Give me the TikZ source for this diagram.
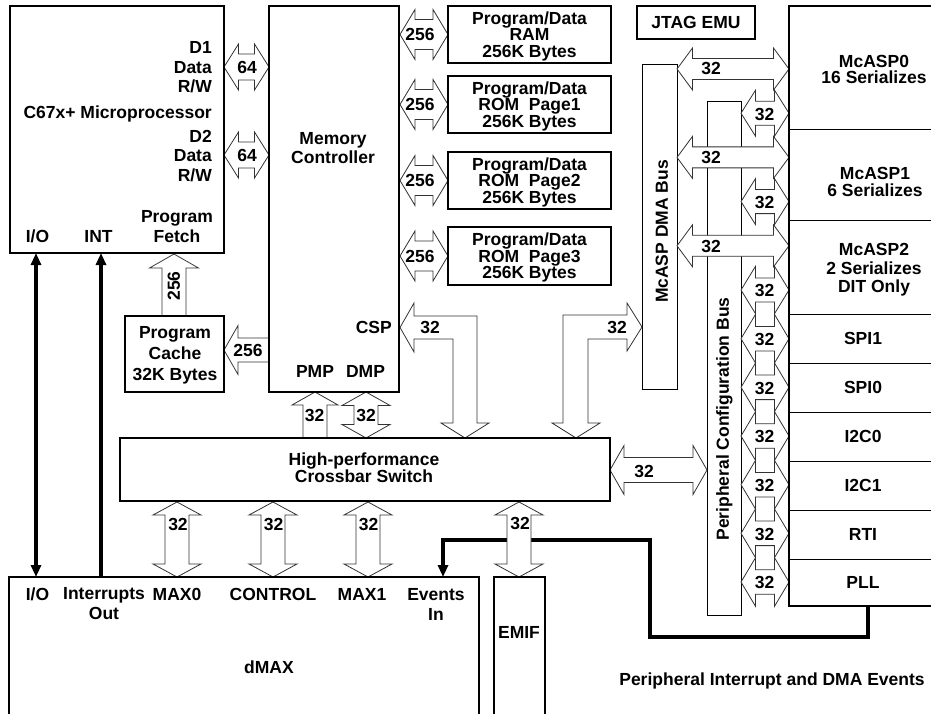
\documentclass[tikz,border=0pt]{standalone}
\usepackage{fontspec}
\setmainfont{Liberation Sans}
\usetikzlibrary{arrows.meta}
\pgfdeclarelayer{bg}
\pgfdeclarelayer{mid}
\pgfsetlayers{bg,mid,main}
% double-headed horizontal block arrow: x1, x2, y, head length, head half-height, shaft half-height
\newcommand\DblH[6]{\draw[barrow] ({#1},{#3}) -- ({#1+#4},{#3-#5}) -- ({#1+#4},{#3-#6}) -- ({#2-#4},{#3-#6}) -- ({#2-#4},{#3-#5}) -- ({#2},{#3}) -- ({#2-#4},{#3+#5}) -- ({#2-#4},{#3+#6}) -- ({#1+#4},{#3+#6}) -- ({#1+#4},{#3+#5}) -- cycle;}
% double-headed vertical block arrow: x, y1, y2, head length, head half-width, shaft half-width
\newcommand\DblV[6]{\draw[barrow] ({#1},{#2}) -- ({#1+#5},{#2+#4}) -- ({#1+#6},{#2+#4}) -- ({#1+#6},{#3-#4}) -- ({#1+#5},{#3-#4}) -- ({#1},{#3}) -- ({#1-#5},{#3-#4}) -- ({#1-#6},{#3-#4}) -- ({#1-#6},{#2+#4}) -- ({#1-#5},{#2+#4}) -- cycle;}
% single up arrow: x, ytip, ytail, head length, head half, shaft half
\newcommand\SglUp[6]{\draw[barrow] ({#1},{#2}) -- ({#1+#5},{#2+#4}) -- ({#1+#6},{#2+#4}) -- ({#1+#6},{#3}) -- ({#1-#6},{#3}) -- ({#1-#6},{#2+#4}) -- ({#1-#5},{#2+#4}) -- cycle;}
% single left arrow: xtip, xtail, y, head length, head half, shaft half
\newcommand\SglLeft[6]{\draw[barrow] ({#1},{#3}) -- ({#1+#4},{#3-#5}) -- ({#1+#4},{#3-#6}) -- ({#2},{#3-#6}) -- ({#2},{#3+#6}) -- ({#1+#4},{#3+#6}) -- ({#1+#4},{#3+#5}) -- cycle;}

\begin{document}
\begin{tikzpicture}[x=1pt,y=-1pt,
  txt/.style={font=\bfseries\fontsize{17.5}{17}\selectfont, inner sep=0pt, text height=12.5pt, text depth=0pt},
  mtxt/.style={font=\bfseries\fontsize{17.5}{#1}\selectfont, inner sep=0pt, align=center},
  mtxt/.default=17,
  tbox/.style={draw, line width=2pt, inner sep=0pt, outer sep=0pt},
  nbox/.style={draw, line width=1pt, inner sep=0pt, outer sep=0pt},
  barrow/.style={draw=black!80, fill=white, line width=0.8pt, line join=miter},
  bigline/.style={line width=3.5pt},
  tip/.style={-{Triangle[length=12pt,width=10pt]}},
  tips/.style={{Triangle[length=12pt,width=10pt]}-{Triangle[length=12pt,width=10pt]}}]
\useasboundingbox (0,0) rectangle (931,714);
\clip (0,0) rectangle (931,714);

% main boxes
\node[tbox, minimum width=214pt, minimum height=247pt] (mp) at (117,129.5) {};
\node[tbox, minimum width=130pt, minimum height=386pt] (mc) at (334,199) {};
\node[tbox, minimum width=163pt, minimum height=57pt] (m1) at (529.5,34.5) {};
\node[tbox, minimum width=163pt, minimum height=57pt] (m2) at (529.5,104.5) {};
\node[tbox, minimum width=163pt, minimum height=57pt] (m3) at (529.5,180.5) {};
\node[tbox, minimum width=163pt, minimum height=58pt] (m4) at (529.5,256) {};
\node[tbox, minimum width=118pt, minimum height=33pt] (jtag) at (696,22.5) {};
\node[tbox, minimum width=160pt, minimum height=600pt] (rbox) at (869,306) {};
\node[tbox, minimum width=99pt, minimum height=76pt] (cache) at (174.5,354) {};
\node[tbox, minimum width=490pt, minimum height=63pt] (xbar) at (365,469.5) {};
\node[tbox, minimum width=470pt, minimum height=150pt] (dmax) at (244,652) {};
\node[tbox, minimum width=51pt, minimum height=150pt] (emif) at (519.5,652) {};

\begin{pgfonlayer}{bg}
\node[nbox, minimum width=35pt, minimum height=324pt] (dmabus) at (659.5,227) {};
\node[nbox, minimum width=34pt, minimum height=513pt] (pcb) at (724,358.5) {};
\draw[bigline, tips] (36,0 |- mp.south) -- (36,0 |- dmax.north);
\draw[bigline, tip] (101,0 |- dmax.north) -- (101,0 |- mp.south);
\draw[bigline, tip] (868,0 |- rbox.south) |- (650,637) |- (443,540) -- (443,0 |- dmax.north);
\end{pgfonlayer}

% dividers of the peripheral column
\foreach \yy in {130,220,314,363,412,461,510,559}
  \draw[line width=1pt] (rbox.west |- 0,\yy) -- (rbox.east |- 0,\yy);

\begin{pgfonlayer}{mid}
% CPU data buses
\DblH{224}{269}{67}{14.5}{23}{13}
\DblH{224}{269}{155}{14.5}{23}{13}
% memory buses
\DblH{400}{448}{34.5}{15}{25}{15}
\DblH{400}{448}{104.5}{15}{25}{15}
\DblH{400}{448}{180.5}{15}{25}{15}
\DblH{400}{448}{256}{15}{25}{15}
% program cache
\SglUp{174}{254}{316}{14}{24.5}{12}
\SglLeft{224}{269}{350}{14}{24.5}{12}
% CSP L-arrow
\draw[barrow] (400,327.5) -- (414,303) -- (414,316) -- (477,316) -- (477,423) -- (489,423) -- (465,438) -- (441,423) -- (453,423) -- (453,339) -- (414,339) -- (414,352) -- cycle;
% DMA bus L-arrow
\draw[barrow] (642,327) -- (627,303) -- (627,315) -- (563,315) -- (563,423) -- (552,423) -- (576,438) -- (600,423) -- (588,423) -- (588,339) -- (627,339) -- (627,351) -- cycle;
% PMP / DMP
\SglUp{315}{392}{438}{13}{23}{12}
\DblV{366}{392}{438}{13.5}{24}{12}
% crossbar to dMAX / EMIF
\DblV{177}{502}{577}{13}{24}{12}
\DblV{273}{502}{577}{13}{24}{12}
\DblV{368}{502}{577}{13}{24}{12}
\DblV{519}{502}{577}{13}{24}{12}
% crossbar to peripheral configuration bus
\DblH{610}{707}{470}{14}{24.5}{12.5}
% McASP DMA bus arrows
\DblH{677}{789}{69}{15.5}{21}{10.5}
\DblH{677}{789}{157.4}{15.5}{21}{10.5}
\DblH{677}{789}{245.8}{15.5}{21}{10.5}
% configuration bus arrows
\DblH{741}{789}{113.2}{14.5}{23}{12}
\DblH{741}{789}{201.6}{14.5}{23}{12}
\DblH{741}{789}{290}{14.5}{23.7}{12}
\foreach \cc in {338.7,387.3,436,484.7,533.3,582}
  {\DblH{741}{789}{\cc}{14.5}{24.3}{12.3}}
\end{pgfonlayer}

% texts of the CPU
\node[mtxt=19.5, align=right, anchor=east] (d1) at (212,67.5) {D1\\Data\\R/W};
\node[txt, anchor=east] (mpname) at (212,112) {C67x+ Microprocessor};
\node[mtxt=19.5, align=right, anchor=east] (d2) at (212,156) {D2\\Data\\R/W};
\node[mtxt=20] (pf) at (177,227) {Program\\Fetch};
\node[txt] (mpio) at (37.5,236.5) {I/O};
\node[txt] (mpint) at (98.5,236.5) {INT};
% memory controller
\node[mtxt=19] (mcname) at (333,148) {Memory\\Controller};
\node[txt, anchor=east] (csp) at (392,327) {CSP};
\node[txt] (pmp) at (315,371) {PMP};
\node[txt] (dmp) at (365.5,371) {DMP};
% memories
\node[mtxt=16.5] (t1) at (529.5,36) {Program/Data\\RAM\\256K Bytes};
\node[mtxt=16.5] (t2) at (529.5,106) {Program/Data\\ROM\ \ Page1\\256K Bytes};
\node[mtxt=16.5] (t3) at (529.5,182) {Program/Data\\ROM\ \ Page2\\256K Bytes};
\node[mtxt=16.5] (t4) at (529.5,257.5) {Program/Data\\ROM\ \ Page3\\256K Bytes};
\node[txt] (tj) at (696,22.5) {JTAG EMU};
% cache
\node[mtxt=21] (tc) at (175,355) {Program\\Cache\\32K Bytes};
% crossbar
\node[mtxt=17] (tx) at (364,468) {High-performance\\Crossbar Switch};
% dMAX
\node[txt] (dio) at (37.5,594) {I/O};
\node[mtxt=20] (dint) at (104,604) {Interrupts\\Out};
\node[txt] (dm0) at (177,594) {MAX0};
\node[txt] (dctl) at (273,594) {CONTROL};
\node[txt] (dm1) at (362,594) {MAX1};
\node[mtxt=20] (dev) at (436,604) {Events\\In};
\node[txt] (dname) at (269,667) {dMAX};
\node[txt] (ename) at (519,632) {EMIF};
% buses
\node[txt, rotate=90] (tdma) at (661.5,231.5) {McASP DMA Bus};
\node[txt, rotate=90] (tpcb) at (722.5,419) {Peripheral Configuration Bus};
% peripherals
\node[mtxt=16.8] (p0) at (874,69.5) {McASP0\\16 Serializes};
\node[mtxt=17] (p1) at (875,182) {McASP1\\6 Serializes};
\node[mtxt=18.5] (p2) at (874,270) {McASP2\\2 Serializes\\DIT Only};
\node[txt] (p3) at (863,338.5) {SPI1};
\node[txt] (p4) at (863,387.5) {SPI0};
\node[txt] (p5) at (863,436.5) {I2C0};
\node[txt] (p6) at (863,485.5) {I2C1};
\node[txt] (p7) at (863,534.5) {RTI};
\node[txt] (p8) at (863,582.5) {PLL};
\node[txt] (pev) at (772,679) {Peripheral Interrupt and DMA Events};
% bus widths
\node[txt] (w1) at (247,67) {64};
\node[txt] (w2) at (247,155) {64};
\node[txt] (w3) at (420,34.5) {256};
\node[txt] (w4) at (420,104.5) {256};
\node[txt] (w5) at (420,180.5) {256};
\node[txt] (w6) at (420,256) {256};
\node[txt, rotate=90] (w7) at (173.5,286) {256};
\node[txt] (w8) at (248,350) {256};
\node[txt] (w9) at (430,327.5) {32};
\node[txt] (w10) at (617,327) {32};
\node[txt] (w11) at (314.5,415.5) {32};
\node[txt] (w12) at (366,415.5) {32};
\node[txt] (w13) at (178,524) {32};
\node[txt] (w14) at (273.5,524) {32};
\node[txt] (w15) at (368.5,524) {32};
\node[txt] (w16) at (520,523.5) {32};
\node[txt] (w17) at (644,471) {32};
\node[txt] (w18) at (711,68) {32};
\node[txt] (w19) at (711,157) {32};
\node[txt] (w20) at (711,246.5) {32};
\node[txt] (w21) at (764.5,114.5) {32};
\node[txt] (w22) at (764.5,202.5) {32};
\node[txt] (w23) at (764.5,290.5) {32};
\foreach \cc [count=\i] in {338.7,387.3,436,484.7,533.3,582}
  \node[txt] (wl\i) at (764.5,\cc+0.5) {32};
\end{tikzpicture}
\end{document}
